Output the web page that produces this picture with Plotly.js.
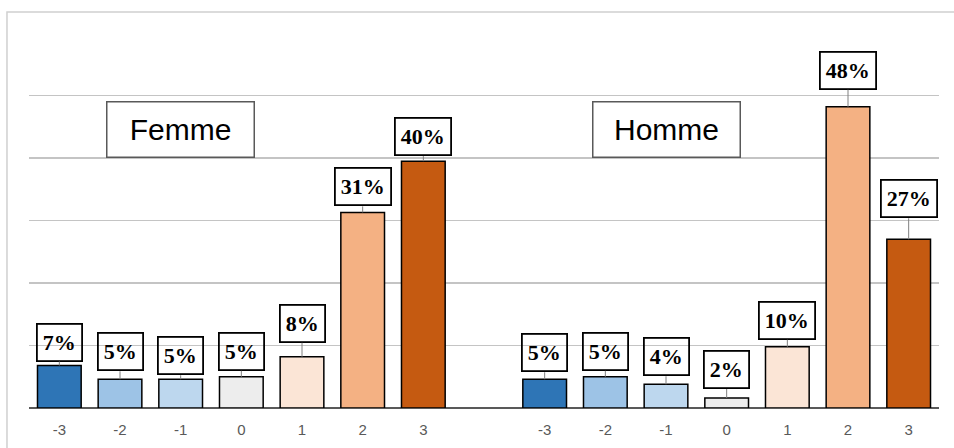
<!DOCTYPE html>
<html>
<head>
<meta charset="utf-8">
<script src="https://cdn.plot.ly/plotly-3.0.1.min.js"></script>
<style>html,body{margin:0;padding:0;background:#fff;}#chart{width:954px;height:448px;}</style>
</head>
<body>
<div id="chart"></div>
<script>
// ---- data ----
const categories = ['-3', '-2', '-1', '0', '1', '2', '3'];
const groups = ['Femme', 'Homme'];
const femme = [0.068, 0.046, 0.046, 0.050, 0.082, 0.313, 0.395];
const homme = [0.046, 0.050, 0.038, 0.016, 0.098, 0.482, 0.270];

// ---- styles / positions ----
const colors = ['#2E75B6', '#9DC3E6', '#BDD7EE', '#EDEDED', '#FBE5D6', '#F4B183', '#C55A11'];
const femmeLift = [4, 8, 4, 6, 14, 6, 5];     // px gap between bar top and label box
const hommeLift = [7, 6, 8, 9, 7, 17, 21];

const n = categories.length;
const femmeX = categories.map((c, i) => i);
const hommeX = categories.map((c, i) => i + n + 1);

function barTrace(x, y) {
  return {
    type: 'bar', x: x, y: y, width: 0.72,
    marker: {color: colors, line: {color: '#000000', width: 1.5}},
    hoverinfo: 'skip', showlegend: false
  };
}

function labelAnns(x, y, lift) {
  return y.map((v, i) => ({
    x: x[i], y: v, xref: 'x', yref: 'y',
    text: '<b>' + Math.round(v * 100) + '%</b>',
    showarrow: true, arrowhead: 0, arrowwidth: 1, arrowcolor: '#808080',
    ax: 0, ay: -lift[i], yanchor: 'bottom', xanchor: 'center',
    font: {family: 'Liberation Serif, Times New Roman, serif', size: 22, color: '#000'},
    bgcolor: 'rgba(255,255,255,0)', bordercolor: '#000000', borderwidth: 1.8, borderpad: 5
  }));
}

const groupAnns = groups.map((g, k) => ({
  x: k === 0 ? 2 : n + 3, y: 0.445, xref: 'x', yref: 'y',
  text: g, showarrow: false, xanchor: 'center', yanchor: 'middle',
  width: 144, height: 52,
  font: {family: 'Liberation Sans, Arial, sans-serif', size: 30, color: '#000'},
  bgcolor: '#ffffff', bordercolor: '#595959', borderwidth: 1.5
}));

const tickvals = femmeX.concat(hommeX);
const ticktext = categories.concat(categories);

const layout = {
  width: 954, height: 448,
  margin: {l: 29, r: 15, t: 33, b: 40},
  paper_bgcolor: '#ffffff', plot_bgcolor: '#ffffff',
  barmode: 'overlay',
  xaxis: {
    range: [-0.5, 2 * n + 0.5], tickvals: tickvals, ticktext: ticktext,
    showgrid: false, zeroline: false, showline: false, ticks: '',
    ticklabelstandoff: 11,
    tickfont: {family: 'Liberation Sans, Arial, sans-serif', size: 15, color: '#595959'}
  },
  yaxis: {
    range: [0, 0.6], dtick: 0.1, showticklabels: false,
    showgrid: true, gridcolor: '#c4c4c4', gridwidth: 1.2,
    zeroline: true, zerolinecolor: '#595959', zerolinewidth: 2.5,
    showline: false, ticks: ''
  },
  shapes: [{
    type: 'rect', xref: 'paper', yref: 'paper',
    x0: -0.0242, x1: 1.05, y0: -0.3, y1: 1.056,
    line: {color: '#d0d0d0', width: 1.5}, fillcolor: 'rgba(0,0,0,0)', layer: 'below'
  }],
  annotations: labelAnns(femmeX, femme, femmeLift)
    .concat(labelAnns(hommeX, homme, hommeLift))
    .concat(groupAnns)
};

Plotly.newPlot('chart', [barTrace(femmeX, femme), barTrace(hommeX, homme)], layout,
  {staticPlot: true, displayModeBar: false});
</script>
</body>
</html>
